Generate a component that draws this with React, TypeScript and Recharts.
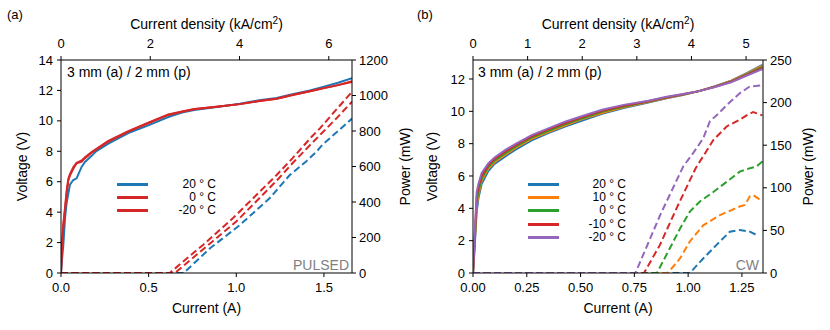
import React from 'react';
import { LineChart, Line, XAxis, YAxis } from 'recharts';

const FONT = '"Liberation Sans", Arial, Helvetica, sans-serif';

// ---------- (a) pulsed ----------
const pulsedCurrent = [0, 0.005, 0.013, 0.023, 0.032, 0.042, 0.051, 0.07, 0.089, 0.118, 0.137, 0.175, 0.2, 0.27, 0.384, 0.498, 0.612, 0.69, 0.76, 0.9, 1.02, 1.13, 1.23, 1.32, 1.42, 1.5, 1.58, 1.66];
const pulsedV20 = [0, 0.8, 1.8, 3.6, 4.6, 5.24, 5.8, 6.11, 6.22, 6.99, 7.3, 7.7, 8.0, 8.5, 9.2, 9.7, 10.25, 10.55, 10.72, 10.93, 11.12, 11.35, 11.5, 11.75, 12.0, 12.25, 12.5, 12.8];
const pulsedV0 = [0, 1.5, 3.0, 4.14, 5.2, 6.11, 6.4, 6.85, 7.21, 7.32, 7.55, 7.91, 8.1, 8.63, 9.29, 9.84, 10.39, 10.6, 10.76, 10.95, 11.1, 11.3, 11.45, 11.7, 11.95, 12.15, 12.35, 12.6];
const pulsedVm20 = [0, 1.6, 3.2, 4.3, 5.4, 6.2, 6.5, 6.95, 7.25, 7.4, 7.6, 7.95, 8.15, 8.68, 9.32, 9.88, 10.42, 10.62, 10.78, 10.95, 11.1, 11.3, 11.45, 11.7, 11.95, 12.15, 12.35, 12.55];

const pulsedPI20 = [0, 0.7, 0.85, 1.02, 1.19, 1.305, 1.4, 1.458, 1.49, 1.58, 1.66];
const pulsedP20 = [0, 0, 139, 270, 421, 552, 630, 684, 721, 800, 870];
const pulsedPI0 = [0, 0.65, 0.83, 1.0, 1.23, 1.32, 1.43, 1.48, 1.57, 1.66];
const pulsedP0 = [0, 0, 150, 290, 520, 618, 730, 780, 870, 965];
const pulsedPIm20 = [0, 0.62, 0.81, 0.98, 1.23, 1.32, 1.43, 1.477, 1.57, 1.66];
const pulsedPm20 = [0, 0, 158, 308, 552, 646, 768, 815, 920, 1021];

// ---------- (b) cw ----------
const cwCurrent = [0, 0.005, 0.012, 0.017, 0.025, 0.04, 0.071, 0.1, 0.149, 0.2, 0.273, 0.35, 0.428, 0.505, 0.6, 0.7, 0.815, 0.9, 0.97, 1.05, 1.125, 1.2, 1.27, 1.345];
const cwV20 = [0, 1.0, 2.6, 3.8, 4.6, 5.5, 6.3, 6.75, 7.2, 7.65, 8.2, 8.65, 9.05, 9.42, 9.85, 10.2, 10.55, 10.8, 11.0, 11.25, 11.55, 11.9, 12.35, 12.88];
const cwV10 = [0, 1.1, 2.8, 4.1, 4.8, 5.7, 6.45, 6.85, 7.3, 7.75, 8.3, 8.72, 9.12, 9.5, 9.9, 10.25, 10.58, 10.83, 11.01, 11.25, 11.54, 11.88, 12.31, 12.82];
const cwV0 = [0, 1.2, 3.0, 4.4, 5.0, 5.85, 6.55, 6.95, 7.4, 7.83, 8.37, 8.8, 9.2, 9.56, 9.97, 10.3, 10.61, 10.85, 11.02, 11.25, 11.53, 11.85, 12.27, 12.75];
const cwVm10 = [0, 1.35, 3.2, 4.7, 5.3, 6.0, 6.68, 7.05, 7.5, 7.92, 8.45, 8.88, 9.28, 9.63, 10.03, 10.35, 10.63, 10.87, 11.04, 11.25, 11.52, 11.83, 12.23, 12.68];
const cwVm20 = [0, 1.5, 3.5, 5.0, 5.5, 6.17, 6.78, 7.15, 7.6, 8.0, 8.53, 8.95, 9.36, 9.7, 10.1, 10.4, 10.65, 10.9, 11.05, 11.25, 11.5, 11.8, 12.2, 12.62];

const cwPI20 = [0, 1.008, 1.07, 1.132, 1.194, 1.24, 1.287, 1.318];
const cwP20 = [0, 0, 17, 33, 48.5, 50.5, 48.5, 44.6];
const cwPI10 = [0, 0.905, 0.962, 1.008, 1.07, 1.148, 1.24, 1.264, 1.287, 1.302, 1.334];
const cwP10 = [0, 0, 17, 37, 56, 68, 78, 80, 90, 91.5, 86];
const cwPI0 = [0, 0.855, 0.915, 0.962, 1.008, 1.055, 1.117, 1.179, 1.24, 1.287, 1.318, 1.345];
const cwP0 = [0, 0, 29, 52, 72, 84, 95, 107, 119, 123, 125, 131];
const cwPIm10 = [0, 0.795, 0.869, 0.95, 1.035, 1.07, 1.117, 1.179, 1.24, 1.272, 1.302, 1.345];
const cwPm10 = [0, 0, 33, 78, 123, 137, 156, 172, 180, 185, 189, 185];
const cwPIm20 = [0, 0.755, 0.87, 0.977, 1.024, 1.07, 1.101, 1.14, 1.179, 1.24, 1.287, 1.334, 1.345];
const cwPm20 = [0, 0, 68, 125, 141, 158, 178, 187, 197, 211, 219, 220, 221];

const BLUE = '#1f77b4';
const ORANGE = '#ff7f0e';
const GREEN = '#2ca02c';
const RED = '#d62728';
const PURPLE = '#9467bd';

const pts = (xs: number[], ys: number[]) => xs.map((x, k) => ({ i: x, y: ys[k] }));

type Series = { name: string; color: string; v: { i: number; y: number }[]; p: { i: number; y: number }[] };

const pulsedSeries: Series[] = [
  { name: '20 ° C', color: BLUE, v: pts(pulsedCurrent, pulsedV20), p: pts(pulsedPI20, pulsedP20) },
  { name: '0 ° C', color: RED, v: pts(pulsedCurrent, pulsedV0), p: pts(pulsedPI0, pulsedP0) },
  { name: '-20 ° C', color: RED, v: pts(pulsedCurrent, pulsedVm20), p: pts(pulsedPIm20, pulsedPm20) },
];

const cwSeries: Series[] = [
  { name: '20 ° C', color: BLUE, v: pts(cwCurrent, cwV20), p: pts(cwPI20, cwP20) },
  { name: '10 ° C', color: ORANGE, v: pts(cwCurrent, cwV10), p: pts(cwPI10, cwP10) },
  { name: '0 ° C', color: GREEN, v: pts(cwCurrent, cwV0), p: pts(cwPI0, cwP0) },
  { name: '-10 ° C', color: RED, v: pts(cwCurrent, cwVm10), p: pts(cwPIm10, cwPm10) },
  { name: '-20 ° C', color: PURPLE, v: pts(cwCurrent, cwVm20), p: pts(cwPIm20, cwPm20) },
];

const tickStyle = { fill: '#000', fontSize: 13, fontFamily: FONT };

const VLabel = (props: any) => {
  const { viewBox, offX, text } = props;
  const cx = viewBox.x + offX;
  const cy = viewBox.y + viewBox.height / 2;
  return (
    <text x={cx} y={cy} transform={`rotate(-90 ${cx} ${cy})`} textAnchor="middle" dominantBaseline="central" fontSize={14} fontFamily={FONT} fill="#000">
      {text}
    </text>
  );
};

const HLabel = (props: any) => {
  const { viewBox, posY, sup } = props;
  const cx = viewBox.x + viewBox.width / 2;
  if (sup) {
    return (
      <text x={cx} y={posY} textAnchor="middle" fontSize={14} fontFamily={FONT} fill="#000">
        <tspan>Current density (kA/cm</tspan>
        <tspan dy={-5} fontSize={10}>2</tspan>
        <tspan dy={5}>)</tspan>
      </text>
    );
  }
  return (
    <text x={cx} y={posY} textAnchor="middle" fontSize={14} fontFamily={FONT} fill="#000">
      Current (A)
    </text>
  );
};

type PanelProps = {
  series: Series[];
  xMax: number;
  xTicks: number[];
  xDigits: number;
  jMax: number;
  jTicks: number[];
  vMax: number;
  vTicks: number[];
  pMax: number;
  pTicks: number[];
  leftW: number;
  rightW: number;
  vLabelDx: number;
  pLabelDx: number;
};

const Panel = (p: PanelProps) => (
  <LineChart width={415} height={330} margin={{ top: 0, right: 0, bottom: 0, left: 0 }}>
    <XAxis
      xAxisId="b"
      dataKey="i"
      type="number"
      domain={[0, p.xMax]}
      ticks={p.xTicks}
      allowDataOverflow
      tickFormatter={(v: number) => v.toFixed(p.xDigits)}
      height={57}
      stroke="#000"
      tickSize={4}
      tickMargin={6}
      tick={tickStyle}
      label={<HLabel posY={313} />}
    />
    <XAxis
      xAxisId="t"
      orientation="top"
      dataKey="i"
      type="number"
      domain={[0, p.jMax]}
      ticks={p.jTicks}
      allowDataOverflow
      height={60}
      stroke="#000"
      tickSize={4}
      tickMargin={8}
      tick={tickStyle}
      label={<HLabel posY={29} sup />}
    />
    <YAxis
      yAxisId="v"
      type="number"
      domain={[0, p.vMax]}
      ticks={p.vTicks}
      allowDataOverflow
      width={p.leftW}
      stroke="#000"
      tickSize={4}
      tickMargin={4}
      tick={tickStyle}
      label={<VLabel offX={p.vLabelDx} text="Voltage (V)" />}
    />
    <YAxis
      yAxisId="p"
      orientation="right"
      type="number"
      domain={[0, p.pMax]}
      ticks={p.pTicks}
      allowDataOverflow
      width={p.rightW}
      stroke="#000"
      tickSize={4}
      tickMargin={3}
      tick={tickStyle}
      label={<VLabel offX={p.pLabelDx} text="Power (mW)" />}
    />
    {p.series.map((s) => (
      <Line
        key={'v' + s.name}
        xAxisId="b"
        yAxisId="v"
        data={s.v}
        dataKey="y"
        type="linear"
        stroke={s.color}
        strokeWidth={2}
        dot={false}
        isAnimationActive={false}
      />
    ))}
    {p.series.map((s) => (
      <Line
        key={'p' + s.name}
        xAxisId="b"
        yAxisId="p"
        data={s.p}
        dataKey="y"
        type="linear"
        stroke={s.color}
        strokeWidth={2}
        strokeDasharray="7 3.5"
        dot={false}
        isAnimationActive={false}
      />
    ))}
  </LineChart>
);

const Legend = ({ series, lineX, textRight, top }: { series: Series[]; lineX: number; textRight: number; top: number }) => (
  <>
    {series.map((s, k) => {
      const cy = Math.round(top + k * 13.2);
      return (
        <React.Fragment key={s.name}>
          <div style={{ position: 'absolute', left: lineX, top: cy - 1, width: 31, height: 3, background: s.color }} />
          <div
            style={{
              position: 'absolute',
              left: textRight - 80,
              width: 80,
              top: cy - 7,
              height: 14,
              lineHeight: '14px',
              textAlign: 'right',
              fontSize: 12,
              fontFamily: FONT,
              whiteSpace: 'pre',
            }}
          >
            {s.name}
          </div>
        </React.Fragment>
      );
    })}
  </>
);

const note = (left: number, top: number, text: string, extra: React.CSSProperties = {}) => (
  <div style={{ position: 'absolute', left, top, fontSize: 14, lineHeight: '16px', fontFamily: FONT, whiteSpace: 'pre', ...extra }}>{text}</div>
);

const App = () => (
  <div style={{ position: 'absolute', left: 0, top: 0, width: 830, height: 330, background: '#fff', fontFamily: FONT }}>
    <div style={{ position: 'absolute', left: 0, top: 0 }}>
      <Panel
        series={pulsedSeries}
        xMax={1.66}
        xTicks={[0, 0.5, 1, 1.5]}
        xDigits={1}
        jMax={6.52}
        jTicks={[0, 2, 4, 6]}
        vMax={14}
        vTicks={[0, 2, 4, 6, 8, 10, 12, 14]}
        pMax={1200}
        pTicks={[0, 200, 400, 600, 800, 1000, 1200]}
        leftW={61}
        rightW={63}
        vLabelDx={22}
        pLabelDx={53}
      />
    </div>
    <div style={{ position: 'absolute', left: 415, top: 0 }}>
      <Panel
        series={cwSeries}
        xMax={1.348}
        xTicks={[0, 0.25, 0.5, 0.75, 1, 1.25]}
        xDigits={2}
        jMax={5.31}
        jTicks={[0, 1, 2, 3, 4, 5]}
        vMax={13.175}
        vTicks={[0, 2, 4, 6, 8, 10, 12]}
        pMax={250}
        pTicks={[0, 50, 100, 150, 200, 250]}
        leftW={58}
        rightW={67}
        vLabelDx={17}
        pLabelDx={45}
      />
    </div>
    {note(7, 7, '(a)', { fontSize: 13 })}
    {note(417, 7, '(b)', { fontSize: 13 })}
    {note(67, 64, '3 mm (a) / 2 mm (p)')}
    {note(478, 64, '3 mm (a) / 2 mm (p)')}
    {note(0, 257, 'PULSED', { left: 249, width: 100, textAlign: 'right', color: '#808080' })}
    {note(0, 257, 'CW', { left: 659, width: 100, textAlign: 'right', color: '#808080' })}
    <Legend series={pulsedSeries} lineX={117} textRight={216} top={184} />
    <Legend series={cwSeries} lineX={528} textRight={626} top={184} />
  </div>
);

export default App;
